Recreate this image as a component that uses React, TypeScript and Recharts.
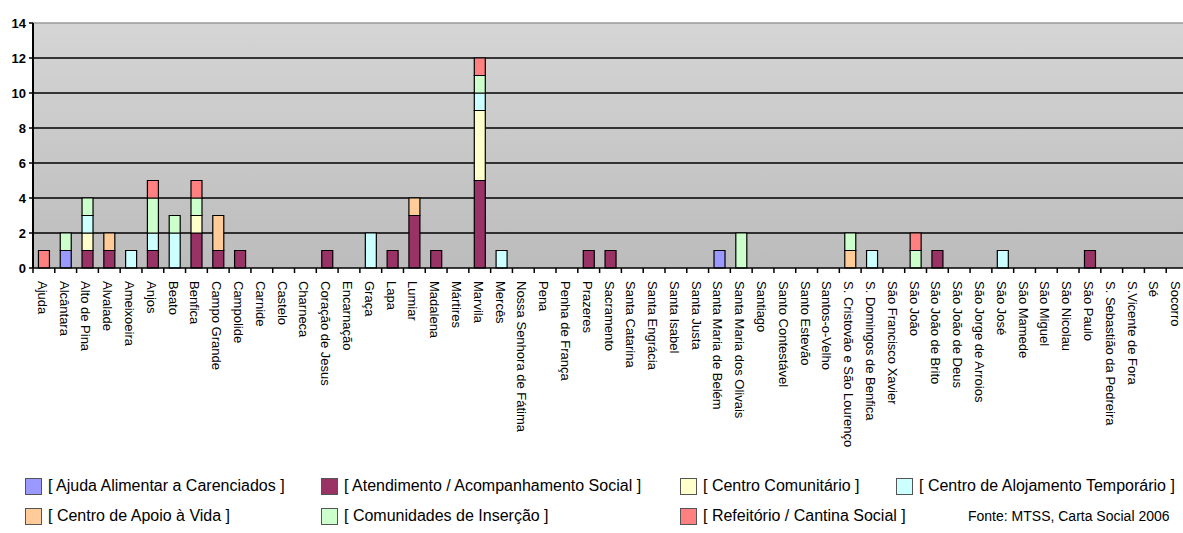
import { BarChart, Bar, XAxis, YAxis, CartesianGrid, ReferenceLine } from "recharts";

const freguesias = [
  "Ajuda", "Alcântara", "Alto de Pina", "Alvalade", "Ameixoeira", "Anjos", "Beato", "Benfica",
  "Campo Grande", "Campolide", "Carnide", "Castelo", "Charneca", "Coração de Jesus", "Encarnação",
  "Graça", "Lapa", "Lumiar", "Madalena", "Mártires", "Marvila", "Mercês", "Nossa Senhora de Fátima",
  "Pena", "Penha de França", "Prazeres", "Sacramento", "Santa Catarina", "Santa Engrácia",
  "Santa Isabel", "Santa Justa", "Santa Maria de Belém", "Santa Maria dos Olivais", "Santiago",
  "Santo Contestável", "Santo Estevão", "Santos-o-Velho", "S. Cristovão e São Lourenço",
  "S. Domingos de Benfica", "São Francisco Xavier", "São João", "São João de Brito",
  "São João de Deus", "São Jorge de Arroios", "São José", "São Mamede", "São Miguel",
  "São Nicolau", "São Paulo", "S. Sebastião da Pedreira", "S.Vicente de Fora", "Sé", "Socorro",
];

// valores por freguesia, na mesma ordem
const ajudaAlimentar = [0,1,0,0,0,0,0,0,0,0,0,0,0,0,0,0,0,0,0,0,0,0,0,0,0,0,0,0,0,0,0,1,0,0,0,0,0,0,0,0,0,0,0,0,0,0,0,0,0,0,0,0,0];
const atendimento = [0,0,1,1,0,1,0,2,1,1,0,0,0,1,0,0,1,3,1,0,5,0,0,0,0,1,1,0,0,0,0,0,0,0,0,0,0,0,0,0,0,1,0,0,0,0,0,0,1,0,0,0,0];
const centroComunitario = [0,0,1,0,0,0,0,1,0,0,0,0,0,0,0,0,0,0,0,0,4,0,0,0,0,0,0,0,0,0,0,0,0,0,0,0,0,0,0,0,0,0,0,0,0,0,0,0,0,0,0,0,0];
const alojamentoTemporario = [0,0,1,0,1,1,2,0,0,0,0,0,0,0,0,2,0,0,0,0,1,1,0,0,0,0,0,0,0,0,0,0,0,0,0,0,0,0,1,0,0,0,0,0,1,0,0,0,0,0,0,0,0];
const apoioVida = [0,0,0,1,0,0,0,0,2,0,0,0,0,0,0,0,0,1,0,0,0,0,0,0,0,0,0,0,0,0,0,0,0,0,0,0,0,1,0,0,0,0,0,0,0,0,0,0,0,0,0,0,0];
const comunidadesInsercao = [0,1,1,0,0,2,1,1,0,0,0,0,0,0,0,0,0,0,0,0,1,0,0,0,0,0,0,0,0,0,0,0,2,0,0,0,0,1,0,0,1,0,0,0,0,0,0,0,0,0,0,0,0];
const refeitorio = [1,0,0,0,0,1,0,1,0,0,0,0,0,0,0,0,0,0,0,0,1,0,0,0,0,0,0,0,0,0,0,0,0,0,0,0,0,0,0,0,1,0,0,0,0,0,0,0,0,0,0,0,0];

const yTicks = [0, 2, 4, 6, 8, 10, 12, 14];
const gridValues = [2, 4, 6, 8, 10, 12];

const series = [
  { key: "aa", name: "[ Ajuda Alimentar a Carenciados ]", color: "#9999ff", values: ajudaAlimentar },
  { key: "at", name: "[ Atendimento / Acompanhamento Social ]", color: "#993366", values: atendimento },
  { key: "cc", name: "[ Centro Comunitário ]", color: "#ffffcc", values: centroComunitario },
  { key: "ca", name: "[ Centro de Alojamento Temporário ]", color: "#ccffff", values: alojamentoTemporario },
  { key: "cv", name: "[ Centro de Apoio à Vida ]", color: "#ffcc99", values: apoioVida },
  { key: "ci", name: "[ Comunidades de Inserção ]", color: "#ccffcc", values: comunidadesInsercao },
  { key: "rc", name: "[ Refeitório / Cantina Social ]", color: "#ff8080", values: refeitorio },
];

const data = freguesias.map((nome, i) => {
  const row: Record<string, string | number> = { nome };
  series.forEach((s) => (row[s.key] = s.values[i]));
  return row;
});

const FONT = "'Liberation Sans', Arial, sans-serif";
const CHART_W = 1188;
const Y_W = 33;

function CatTick(props: any) {
  const { x, y, payload } = props;
  const half = payload?.offset ?? (CHART_W - Y_W) / freguesias.length / 2;
  const tx = x - 1.5;
  return (
    <g>
      <line x1={x - half} x2={x - half} y1={y - 13} y2={y - 8} stroke="#000" strokeWidth={1.5} />
      <text
        x={tx}
        y={y}
        transform={`rotate(90, ${tx}, ${y})`}
        textAnchor="start"
        dominantBaseline="central"
        fontSize={13}
        fontFamily={FONT}
        fill="#000"
      >
        {payload.value}
      </text>
    </g>
  );
}

// legenda: linhas e colunas como no original
const legendLayout = [
  { s: 0, left: 25, top: 477 },
  { s: 1, left: 321, top: 477 },
  { s: 2, left: 680, top: 477 },
  { s: 3, left: 896, top: 477 },
  { s: 4, left: 25, top: 507 },
  { s: 5, left: 321, top: 507 },
  { s: 6, left: 680, top: 507 },
];

export default function App() {
  return (
    <div
      style={{
        position: "absolute",
        left: 0,
        top: 0,
        width: 1183,
        height: 533,
        overflow: "hidden",
        background: "#fff",
        fontFamily: FONT,
      }}
    >
      <BarChart
        width={CHART_W}
        height={460}
        data={data}
        margin={{ top: 23, right: 0, left: 0, bottom: 0 }}
        barCategoryGap="25%"
      >
        <defs>
          <linearGradient id="plotBg" x1="0" y1="0" x2="0" y2="1">
            <stop offset="0%" stopColor="#d5d5d5" />
            <stop offset="100%" stopColor="#bcbcbc" />
          </linearGradient>
        </defs>
        <CartesianGrid
          vertical={false}
          fill="url(#plotBg)"
          fillOpacity={1}
          stroke="#000"
          strokeWidth={1.6}
          horizontalValues={gridValues}
        />
        <ReferenceLine y={14} stroke="#9a9a9a" strokeWidth={1.5} />
        <XAxis
          dataKey="nome"
          interval={0}
          height={192}
          tickSize={5}
          tickMargin={8}
          tickLine={false}
          axisLine={{ stroke: "#000", strokeWidth: 1.5 }}
          tick={<CatTick />}
        />
        <YAxis
          width={Y_W}
          domain={[0, 14]}
          ticks={yTicks}
          interval={0}
          tickSize={4}
          tickMargin={3}
          axisLine={{ stroke: "#000", strokeWidth: 2 }}
          tickLine={{ stroke: "#000", strokeWidth: 1.5 }}
          tick={{ fill: "#000", fontSize: 13, fontWeight: "bold", fontFamily: FONT }}
        />
        {series.map((s) => (
          <Bar
            key={s.key}
            dataKey={s.key}
            name={s.name}
            stackId="a"
            fill={s.color}
            stroke="#000"
            strokeWidth={1.2}
            isAnimationActive={false}
          />
        ))}
      </BarChart>

      {legendLayout.map(({ s, left, top }) => (
        <div
          key={series[s].key}
          style={{ position: "absolute", left, top, display: "flex", alignItems: "center", height: 18 }}
        >
          <div
            style={{
              width: 17,
              height: 17,
              background: series[s].color,
              border: "1px solid #555",
              boxSizing: "border-box",
              marginRight: 6,
            }}
          />
          <span style={{ fontSize: 16, color: "#000", whiteSpace: "nowrap" }}>{series[s].name}</span>
        </div>
      ))}
      <div
        style={{ position: "absolute", left: 968, top: 508, fontSize: 14, color: "#000", whiteSpace: "nowrap" }}
      >
        Fonte: MTSS, Carta Social 2006
      </div>
    </div>
  );
}
